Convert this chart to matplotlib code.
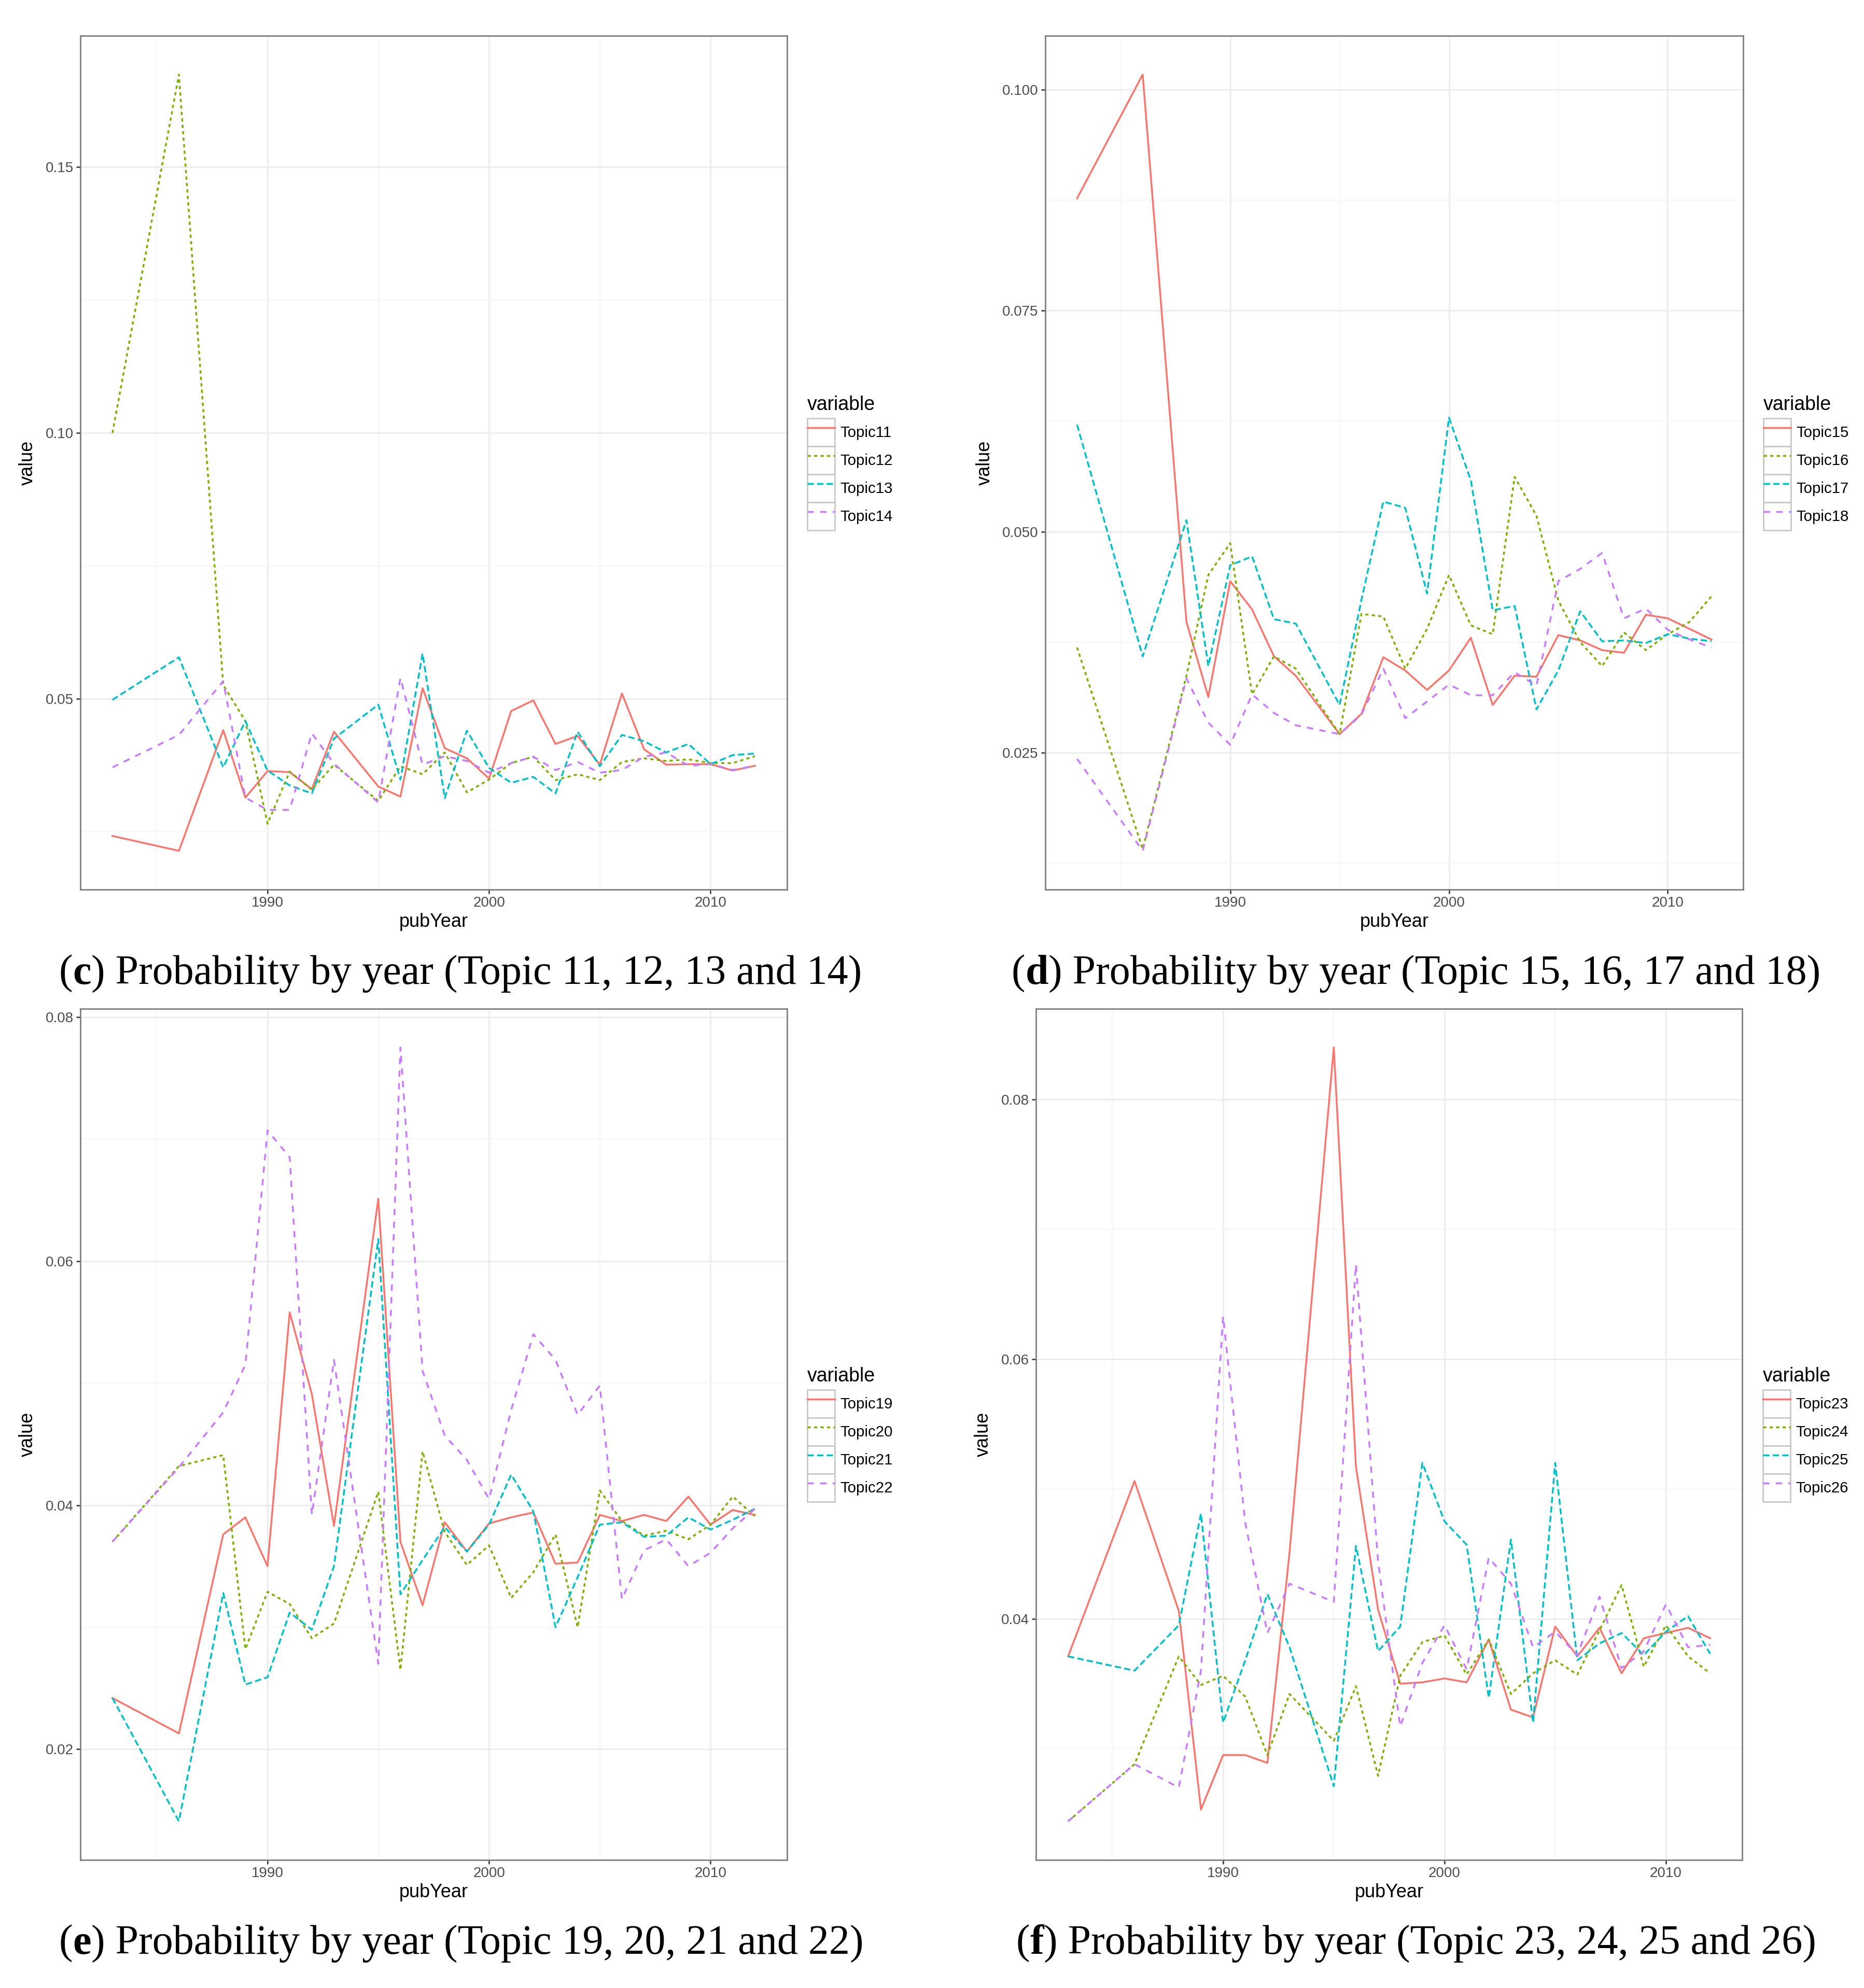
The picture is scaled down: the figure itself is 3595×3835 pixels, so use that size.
import matplotlib
matplotlib.use('Agg')
import matplotlib.pyplot as plt
from matplotlib.patches import Rectangle
from matplotlib.legend_handler import HandlerTuple
from matplotlib.ticker import MultipleLocator, FormatStrFormatter
from matplotlib.offsetbox import TextArea, HPacker, AnnotationBbox

plt.rcParams['font.family'] = ['Liberation Sans', 'DejaVu Sans']

# 出版年份（1984、1985、1987、1994 无数据）
years = [1983, 1986, 1988, 1989, 1990, 1991, 1992, 1993, 1995, 1996, 1997, 1998, 1999,
         2000, 2001, 2002, 2003, 2004, 2005, 2006, 2007, 2008, 2009, 2010, 2011, 2012]

# (c) Topic 11-14
topic11 = [0.0242, 0.0214, 0.0441, 0.0314, 0.0364, 0.0362, 0.0330, 0.0438, 0.0335, 0.0316, 0.0520, 0.0407, 0.0388,
           0.0350, 0.0477, 0.0497, 0.0415, 0.0430, 0.0376, 0.0510, 0.0405, 0.0376, 0.0377, 0.0377, 0.0365, 0.0374]
topic12 = [0.1000, 0.1674, 0.0526, 0.0458, 0.0265, 0.0363, 0.0329, 0.0376, 0.0308, 0.0373, 0.0358, 0.0399, 0.0324,
           0.0348, 0.0379, 0.0391, 0.0347, 0.0358, 0.0347, 0.0381, 0.0388, 0.0383, 0.0386, 0.0379, 0.0379, 0.0392]
topic13 = [0.0498, 0.0578, 0.0371, 0.0458, 0.0365, 0.0337, 0.0322, 0.0425, 0.0489, 0.0348, 0.0585, 0.0313, 0.0440,
           0.0370, 0.0342, 0.0353, 0.0322, 0.0438, 0.0373, 0.0432, 0.0420, 0.0399, 0.0415, 0.0377, 0.0394, 0.0397]
topic14 = [0.0371, 0.0432, 0.0533, 0.0314, 0.0291, 0.0291, 0.0435, 0.0378, 0.0305, 0.0539, 0.0376, 0.0392, 0.0383,
           0.0361, 0.0379, 0.0391, 0.0366, 0.0381, 0.0361, 0.0366, 0.0391, 0.0399, 0.0374, 0.0377, 0.0366, 0.0374]

# (d) Topic 15-18
topic15 = [0.0877, 0.1017, 0.0398, 0.0313, 0.0444, 0.0412, 0.0359, 0.0337, 0.0271, 0.0294, 0.0358, 0.0343, 0.0321,
           0.0343, 0.0380, 0.0304, 0.0337, 0.0336, 0.0383, 0.0377, 0.0366, 0.0363, 0.0406, 0.0402, 0.0390, 0.0378]
topic16 = [0.0369, 0.0141, 0.0337, 0.0451, 0.0487, 0.0316, 0.0359, 0.0345, 0.0271, 0.0407, 0.0404, 0.0345, 0.0390,
           0.0451, 0.0394, 0.0384, 0.0562, 0.0518, 0.0422, 0.0375, 0.0348, 0.0386, 0.0366, 0.0384, 0.0398, 0.0427]
topic17 = [0.0621, 0.0359, 0.0513, 0.0348, 0.0462, 0.0472, 0.0401, 0.0396, 0.0304, 0.0423, 0.0534, 0.0527, 0.0430,
           0.0629, 0.0558, 0.0411, 0.0416, 0.0299, 0.0343, 0.0410, 0.0376, 0.0377, 0.0374, 0.0384, 0.0379, 0.0376]
topic18 = [0.0243, 0.0139, 0.0334, 0.0284, 0.0259, 0.0316, 0.0295, 0.0281, 0.0271, 0.0293, 0.0345, 0.0289, 0.0308,
           0.0327, 0.0315, 0.0315, 0.0341, 0.0326, 0.0444, 0.0458, 0.0476, 0.0402, 0.0413, 0.0389, 0.0378, 0.0369]

# (e) Topic 19-22
topic19 = [0.0242, 0.0213, 0.0376, 0.0390, 0.0350, 0.0558, 0.0491, 0.0383, 0.0651, 0.0370, 0.0318, 0.0386, 0.0362,
           0.0385, 0.0390, 0.0394, 0.0352, 0.0353, 0.0392, 0.0387, 0.0392, 0.0387, 0.0407, 0.0384, 0.0396, 0.0392]
topic20 = [0.0370, 0.0432, 0.0441, 0.0282, 0.0329, 0.0319, 0.0291, 0.0303, 0.0411, 0.0265, 0.0444, 0.0378, 0.0351,
           0.0367, 0.0324, 0.0345, 0.0376, 0.0300, 0.0412, 0.0387, 0.0375, 0.0379, 0.0372, 0.0384, 0.0407, 0.0391]
topic21 = [0.0242, 0.0141, 0.0328, 0.0253, 0.0259, 0.0312, 0.0298, 0.0350, 0.0618, 0.0327, 0.0355, 0.0382, 0.0362,
           0.0384, 0.0425, 0.0395, 0.0300, 0.0341, 0.0384, 0.0386, 0.0374, 0.0375, 0.0390, 0.0380, 0.0388, 0.0397]
topic22 = [0.0370, 0.0431, 0.0476, 0.0515, 0.0707, 0.0685, 0.0392, 0.0519, 0.0270, 0.0775, 0.0510, 0.0457, 0.0437,
           0.0405, 0.0478, 0.0540, 0.0519, 0.0474, 0.0498, 0.0323, 0.0363, 0.0372, 0.0350, 0.0361, 0.0381, 0.0397]

# (f) Topic 23-26
topic23 = [0.0371, 0.0506, 0.0406, 0.0253, 0.0295, 0.0295, 0.0289, 0.0451, 0.0840, 0.0517, 0.0407, 0.0350, 0.0351,
           0.0354, 0.0351, 0.0384, 0.0330, 0.0324, 0.0394, 0.0371, 0.0393, 0.0358, 0.0385, 0.0389, 0.0393, 0.0385]
topic24 = [0.0244, 0.0288, 0.0371, 0.0349, 0.0356, 0.0340, 0.0295, 0.0342, 0.0306, 0.0348, 0.0279, 0.0356, 0.0382,
           0.0387, 0.0357, 0.0384, 0.0342, 0.0358, 0.0368, 0.0357, 0.0391, 0.0426, 0.0363, 0.0395, 0.0371, 0.0358]
topic25 = [0.0371, 0.0360, 0.0395, 0.0481, 0.0320, 0.0368, 0.0419, 0.0378, 0.0271, 0.0456, 0.0375, 0.0394, 0.0520,
           0.0475, 0.0457, 0.0339, 0.0461, 0.0320, 0.0520, 0.0368, 0.0381, 0.0389, 0.0372, 0.0390, 0.0402, 0.0373]
topic26 = [0.0244, 0.0288, 0.0270, 0.0360, 0.0633, 0.0474, 0.0389, 0.0427, 0.0413, 0.0673, 0.0444, 0.0317, 0.0366,
           0.0395, 0.0361, 0.0447, 0.0427, 0.0378, 0.0390, 0.0372, 0.0417, 0.0362, 0.0375, 0.0411, 0.0378, 0.0380]

# ggplot 默认色与线型（solid, 22, 42, 44）
COLORS = ['#F8766D', '#7CAE00', '#00BFC4', '#C77CFF']
DASHES = [None, (1.8, 1.8), (3.5, 1.8), (3.5, 3.5)]
LW = 1.25

SERIF = ['Liberation Serif', 'DejaVu Serif']
CAP_FS = 28.8


def draw_panel(ax, series, names, major, minor, fmt):
    lines = []
    for vals, color, dash in zip(series, COLORS, DASHES):
        ln, = ax.plot(years, vals, color=color, lw=LW)
        if dash is not None:
            ln.set_dashes(dash)
        lines.append(ln)

    ax.set_axisbelow(True)
    ax.xaxis.set_major_locator(MultipleLocator(10))
    ax.xaxis.set_minor_locator(MultipleLocator(5))
    ax.yaxis.set_major_locator(MultipleLocator(major))
    ax.yaxis.set_minor_locator(MultipleLocator(minor))
    ax.yaxis.set_major_formatter(FormatStrFormatter(fmt))
    ax.grid(True, which='major', color='#EBEBEB', lw=1.0)
    ax.grid(True, which='minor', color='#F6F6F6', lw=0.8)
    ax.tick_params(which='major', direction='out', length=2.8, width=0.9, color='#333333',
                   labelcolor='#4D4D4D', labelsize=10, pad=2)
    ax.tick_params(which='minor', length=0)
    for sp in ax.spines.values():
        sp.set_color('#7F7F7F')
        sp.set_linewidth(1.0)
    ax.set_xlabel('pubYear', fontsize=13, labelpad=2)
    ax.set_ylabel('value', fontsize=13, labelpad=6)

    # 图例：每个键带灰色边框（仿 theme_bw）
    handles = [(Rectangle((0, 0), 1, 1, facecolor='white', edgecolor='#C8C8C8', lw=1.0), ln)
               for ln in lines]
    leg = ax.legend(handles, names, handler_map={tuple: HandlerTuple(ndivide=1, pad=0)},
                    loc='center left', bbox_to_anchor=(1.029, 0.5), frameon=False,
                    fontsize=10.6, title='variable', title_fontsize=13.5,
                    handlelength=1.8, handleheight=2.44, labelspacing=0,
                    handletextpad=0.35, borderpad=0, borderaxespad=0, alignment='left')
    leg._legend_box.sep = 3


def add_caption(fig, x, y, letter, text):
    parts = [TextArea('(', textprops=dict(fontsize=CAP_FS, family=SERIF)),
             TextArea(letter, textprops=dict(fontsize=CAP_FS, family=SERIF, fontweight='bold')),
             TextArea(') ' + text, textprops=dict(fontsize=CAP_FS, family=SERIF))]
    box = HPacker(children=parts, align='baseline', pad=0, sep=0)
    ab = AnnotationBbox(box, (x, y), xycoords='figure fraction', frameon=False,
                        box_alignment=(0.5, 0.5), pad=0)
    fig.add_artist(ab)


fig = plt.figure(figsize=(17.975, 19.175), dpi=200)
fig.patch.set_facecolor('white')

ax_c = fig.add_axes([0.0431, 0.5525, 0.3791, 0.4295])
ax_d = fig.add_axes([0.5608, 0.5525, 0.3744, 0.4295])
ax_e = fig.add_axes([0.0431, 0.0644, 0.3791, 0.4282])
ax_f = fig.add_axes([0.5558, 0.0644, 0.3789, 0.4282])

draw_panel(ax_c, [topic11, topic12, topic13, topic14],
           ['Topic11', 'Topic12', 'Topic13', 'Topic14'], 0.05, 0.025, '%.2f')
draw_panel(ax_d, [topic15, topic16, topic17, topic18],
           ['Topic15', 'Topic16', 'Topic17', 'Topic18'], 0.025, 0.0125, '%.3f')
draw_panel(ax_e, [topic19, topic20, topic21, topic22],
           ['Topic19', 'Topic20', 'Topic21', 'Topic22'], 0.02, 0.01, '%.2f')
draw_panel(ax_f, [topic23, topic24, topic25, topic26],
           ['Topic23', 'Topic24', 'Topic25', 'Topic26'], 0.02, 0.01, '%.2f')

add_caption(fig, 0.247, 0.5102, 'c', 'Probability by year (Topic 11, 12, 13 and 14)')
add_caption(fig, 0.7597, 0.5102, 'd', 'Probability by year (Topic 15, 16, 17 and 18)')
add_caption(fig, 0.2475, 0.0222, 'e', 'Probability by year (Topic 19, 20, 21 and 22)')
add_caption(fig, 0.7597, 0.0222, 'f', 'Probability by year (Topic 23, 24, 25 and 26)')

fig.savefig('out.png', dpi=200, facecolor='white')
